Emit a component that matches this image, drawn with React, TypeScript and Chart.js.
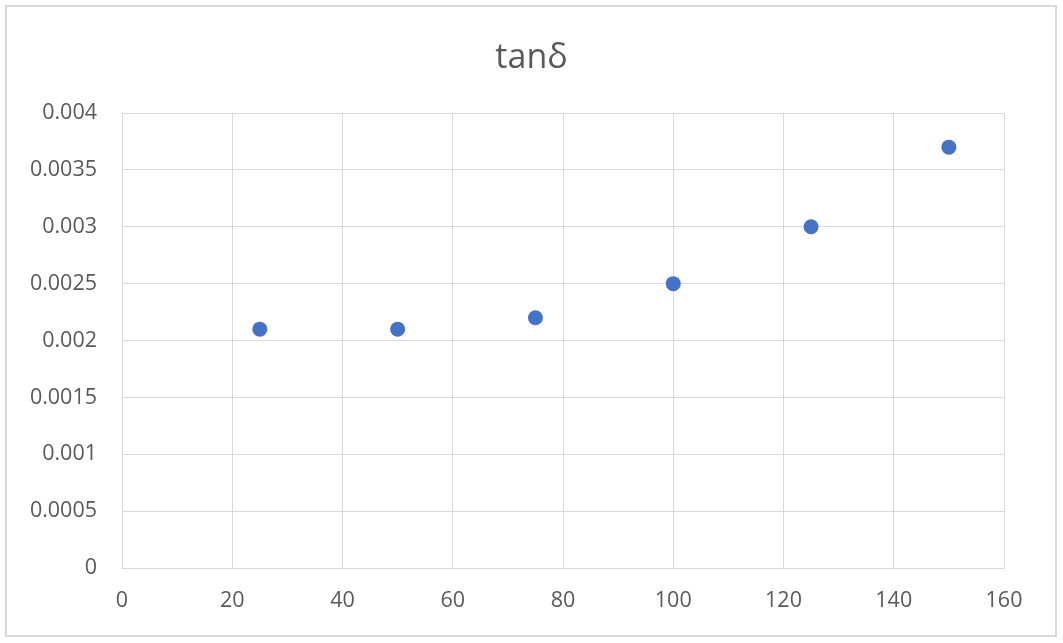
import React, { useEffect, useRef } from "react";
import { Chart, registerables } from "chart.js";

Chart.register(...registerables);

const xValues = [25, 50, 75, 100, 125, 150];
const tanDelta = [0.0021, 0.0021, 0.0022, 0.0025, 0.003, 0.0037];
const yTickLabels = ["0", "0.0005", "0.001", "0.0015", "0.002", "0.0025", "0.003", "0.0035", "0.004"];
const xTickLabels = ["0", "20", "40", "60", "80", "100", "120", "140", "160"];
const titleText = "tanδ";

export default function App() {
  const ref = useRef<HTMLCanvasElement | null>(null);
  useEffect(() => {
    document.body.style.margin = "0";
    const canvas = ref.current;
    if (!canvas) return;
    const font = { family: "'Open Sans'", size: 21.5 };
    const chart = new Chart(canvas, {
      type: "scatter",
      data: {
        datasets: [
          {
            label: titleText,
            data: xValues.map((x, i) => ({ x, y: tanDelta[i] })),
            backgroundColor: "#4472C4",
            borderColor: "#4472C4",
            borderWidth: 0,
            pointRadius: 7.5,
            pointHoverRadius: 7.5,
            showLine: false,
          },
        ],
      },
      options: {
        animation: false,
        responsive: true,
        maintainAspectRatio: false,
        layout: { padding: { top: 0, left: 0, right: 0, bottom: 0 } },
        plugins: {
          legend: { display: false },
          tooltip: { enabled: false },
          title: {
            display: true,
            text: titleText,
            color: "#595959",
            font: { family: "'Open Sans'", size: 34, weight: "normal" },
            padding: { top: 38, bottom: 34.2 },
          },
        },
        scales: {
          x: {
            type: "linear",
            min: 0,
            max: 160,
            ticks: {
              stepSize: 20,
              color: "#595959",
              font,
              padding: 20,
              maxRotation: 0,
              callback: (v: any) => xTickLabels[Math.round(Number(v) / 20)] ?? "",
            },
            grid: { color: "#d9d9d9", lineWidth: 1, drawTicks: false },
            border: { color: "#d9d9d9", width: 1 },
            afterFit: (s: any) => {
              s.height = 75;
            },
          },
          y: {
            type: "linear",
            min: 0,
            max: 0.004,
            ticks: {
              stepSize: 0.0005,
              color: "#595959",
              font,
              padding: 25,
              callback: (v: any) => yTickLabels[Math.round(Number(v) / 0.0005)] ?? "",
            },
            grid: { color: "#d9d9d9", lineWidth: 1, drawTicks: false },
            border: { color: "#d9d9d9", width: 1 },
            afterFit: (s: any) => {
              s.width = 122;
            },
          },
          yRight: {
            type: "linear",
            position: "right",
            display: true,
            min: 0,
            max: 0.004,
            ticks: { display: false },
            grid: { display: false, drawTicks: false },
            border: { display: false },
            afterFit: (s: any) => {
              s.width = 59;
            },
          },
        },
      },
    });
    return () => chart.destroy();
  }, []);
  return (
    <div style={{ position: "absolute", left: 0, top: 0, width: 1063, height: 643, background: "#fff" }}>
      <div
        style={{
          position: "absolute",
          left: 5,
          top: 5,
          width: 1048,
          height: 628,
          border: "2px solid #d9d9d9",
          pointerEvents: "none",
        }}
      />
      <div style={{ position: "absolute", left: 0, top: 0, width: 1063, height: 643 }}>
        <canvas ref={ref} />
      </div>
    </div>
  );
}
